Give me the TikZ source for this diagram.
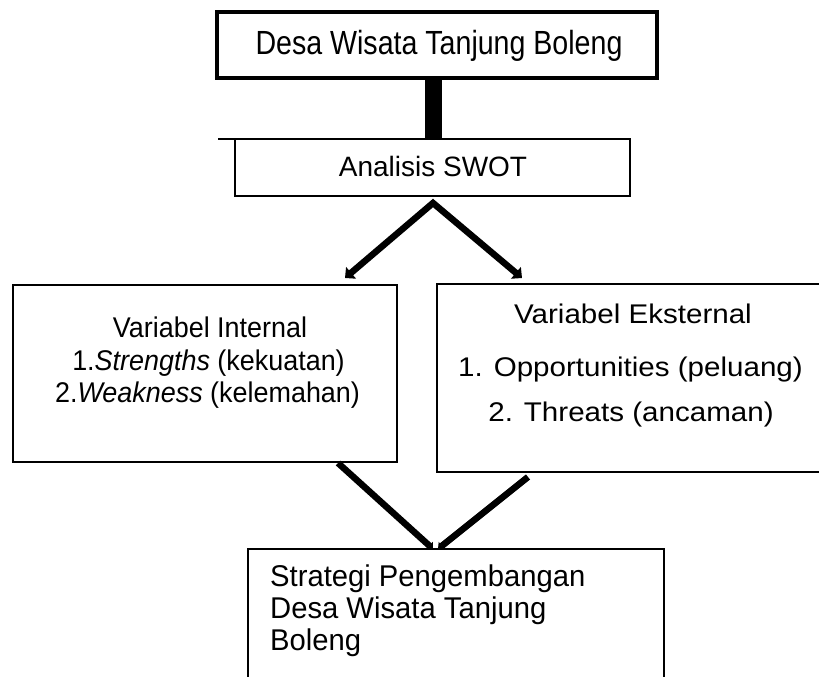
\documentclass[tikz,border=0pt]{standalone}
\usepackage{fontspec}
\setmainfont{Liberation Sans}
\usetikzlibrary{arrows.meta}
\begin{document}
\begin{tikzpicture}[x=1pt,y=-1pt,
  box/.style={draw, line width=2.5pt, rectangle, inner sep=0pt, outer sep=0pt},
  txt/.style={anchor=base, inner sep=0pt},
  conn/.style={line width=6.5pt, line join=miter, {Triangle[length=8pt,width=15pt]}-{Triangle[length=8pt,width=15pt]}},
  conb/.style={line width=6.5pt, -{Triangle[length=5pt,width=10pt]}},
  fa/.style={font=\fontsize{33.5}{36}\selectfont},
  fb/.style={font=\fontsize{28}{32}\selectfont},
  fl/.style={font=\fontsize{28.5}{32}\selectfont},
  fr/.style={font=\fontsize{27}{32}\selectfont},
  fbt/.style={font=\fontsize{30}{32}\selectfont}]
\useasboundingbox (0,0) rectangle (819,677);
% boxes
\node[box, line width=3.2pt, minimum width=440pt, minimum height=66pt] (top) at (437,45) {};
\node[box, minimum width=395pt, minimum height=57pt] (swot) at (432.5,167.5) {};
\node[box, minimum width=384pt, minimum height=177pt] (lbox) at (205,373.5) {};
\node[box, minimum width=393pt, minimum height=188pt] (rbox) at (633.5,378) {};
\node[box, minimum width=416pt, minimum height=151pt] (bbox) at (456,624.5) {};
% texts
\node[txt, fa] (t1) at (439,55) {\scalebox{0.853}[1]{Desa Wisata Tanjung Boleng}};
\node[txt, fb] (t2) at (433,176.5) {Analisis SWOT};
\node[txt, fl] (l1) at (210,337) {\scalebox{0.945}[1]{Variabel Internal}};
\node[txt, fl] (l2) at (208.5,370.5) {\scalebox{0.945}[1]{1.\textit{Strengths} (kekuatan)}};
\node[txt, fl] (l3) at (207.5,402.5) {\scalebox{0.945}[1]{2.\textit{Weakness} (kelemahan)}};
\node[txt, fr] (r1) at (633,323) {\scalebox{1.095}[1]{Variabel Eksternal}};
\node[txt, fr] (r2) at (630.5,376) {\scalebox{1.095}[1]{1. Opportunities (peluang)}};
\node[txt, fr] (r3) at (631,421) {\scalebox{1.095}[1]{2. Threats (ancaman)}};
\node[txt, fbt, anchor=base west] (b1) at (270,586.5) {\scalebox{0.974}[1]{Strategi Pengembangan}};
\node[txt, fbt, anchor=base west] (b2) at (270,618) {\scalebox{0.974}[1]{Desa Wisata Tanjung}};
\node[txt, fbt, anchor=base west] (b3) at (270,650) {\scalebox{0.974}[1]{Boleng}};
% connectors
\coordinate (barx) at (433.5,0);
\draw[line width=17pt] (top.south -| barx) -- (swot.north -| barx);
\draw[line width=2.5pt] (swot.north west) -- ++(-17,0);
\coordinate (apex) at (433,203);
\coordinate (tipL) at (345,278);
\coordinate (tipR) at (522,278);
\draw[conn] (tipL) -- (apex) -- (tipR);
\coordinate (sL) at (338,463);
\coordinate (sR) at (528,477);
\coordinate (eL) at (433,549);
\coordinate (eR) at (438,549);
\draw[conb] (sL) -- (eL);
\draw[conb] (sR) -- (eR);
\end{tikzpicture}
\end{document}
